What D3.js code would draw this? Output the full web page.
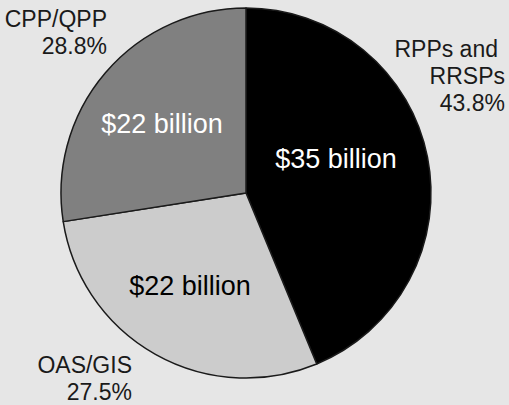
<!DOCTYPE html>
<html>
<head>
<meta charset="utf-8">
<script src="https://cdn.jsdelivr.net/npm/d3@7"></script>
<style>
  html, body { margin: 0; padding: 0; background: #e6e6e6; }
  svg { display: block; font-family: 'Liberation Sans', Arial, sans-serif; }
</style>
</head>
<body>
<div id="chart"></div>
<script>
// slices as drawn, clockwise from 12 o'clock
const sliceNames = ['RPPs and RRSPs', 'OAS/GIS', 'CPP/QPP']
const sliceShares = [43.8, 28.8, 27.5]
const sliceColors = ['#000000', '#cccccc', '#808080']

// outside labels (name lines + percent)
const labelLines = [['RPPs and', 'RRSPs'], ['OAS/GIS'], ['CPP/QPP']]
const labelPcts = ['43.8%', '27.5%', '28.8%']

// inside amount labels
const amounts = ['$35 billion', '$22 billion', '$22 billion']
const amountColors = ['#ffffff', '#000000', '#ffffff']

const width = 509
const height = 405
const cx = 246
const cy = 193
const radius = 185

// placement of the annotation text
const outerPos = [
  { x: 505, y: 57, dx: [-7, 0] },
  { x: 132, y: 373, dx: [0] },
  { x: 107, y: 27, dx: [0] }
]
const innerPos = [
  { x: 336, y: 168 },
  { x: 190, y: 295 },
  { x: 162, y: 133 }
]

const svg = d3.select('#chart')
  .append('svg')
  .attr('width', width)
  .attr('height', height)

svg.append('rect')
  .attr('width', width)
  .attr('height', height)
  .attr('fill', '#e6e6e6')

const pie = d3.pie().sort(null).value(d => d)
const arc = d3.arc().innerRadius(0).outerRadius(radius)

const g = svg.append('g')
  .attr('transform', `translate(${cx}, ${cy})`)

g.selectAll('path')
  .data(pie(sliceShares))
  .join('path')
  .attr('d', arc)
  .attr('fill', (d, i) => sliceColors[i])
  .attr('stroke', '#1a1a1a')
  .attr('stroke-width', 1.5)
  .attr('stroke-linejoin', 'round')

// amounts inside slices
svg.selectAll('.amount')
  .data(amounts)
  .join('text')
  .attr('class', 'amount')
  .attr('x', (d, i) => innerPos[i].x)
  .attr('y', (d, i) => innerPos[i].y)
  .attr('text-anchor', 'middle')
  .attr('font-size', '27px')
  .attr('fill', (d, i) => amountColors[i])
  .text(d => d)

// category labels outside
const lineH = 27
labelLines.forEach((lines, i) => {
  const t = svg.append('text')
    .attr('text-anchor', 'end')
    .attr('font-size', '23px')
    .attr('fill', '#1a1a1a')
  const rows = lines.concat([labelPcts[i]])
  rows.forEach((s, j) => {
    t.append('tspan')
      .attr('x', outerPos[i].x + (outerPos[i].dx[j] || 0))
      .attr('y', outerPos[i].y + j * lineH)
      .text(s)
  })
})
</script>
</body>
</html>
